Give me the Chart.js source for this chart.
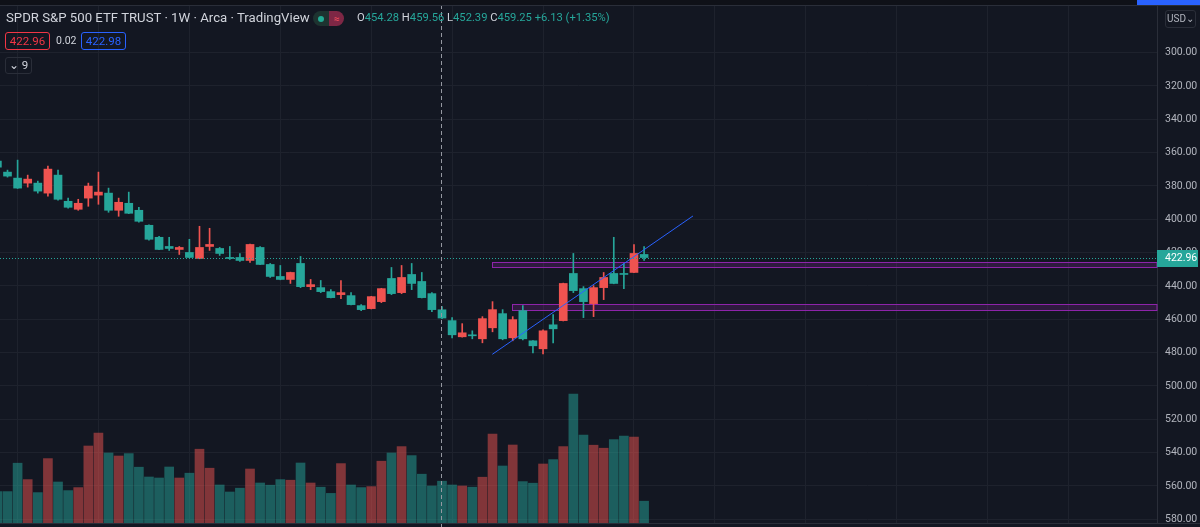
<!DOCTYPE html>
<html>
<head>
<meta charset="utf-8">
<script src="https://cdn.jsdelivr.net/npm/chart.js@4.4.1/dist/chart.umd.min.js"></script>
<style>
body{margin:0;background:#131722;overflow:hidden;font-family:Roboto,"Noto Sans",sans-serif}
#wrap{position:relative;width:1200px;height:527px}
#c{position:absolute;left:0;top:0}
.abs{position:absolute;white-space:nowrap}
#title{left:6px;top:10px;font-size:13.2px;color:#d1d4dc}
#pill{left:313px;top:11px;width:31px;height:15px;border-radius:8px;overflow:hidden;display:flex}
#pill .l{width:16px;background:#1d3330;position:relative}
#pill .l i{position:absolute;left:5px;top:4.5px;width:6px;height:6px;border-radius:3px;background:#22ab94}
#pill .r{flex:1;background:#7e2745;color:#f7525f;font-size:10px;line-height:15px;text-align:center}
#ohlc{left:357px;top:11px;font-size:11.2px;color:#d1d4dc}
#ohlc b{font-weight:normal;color:#26a69a}
.box{top:32px;height:18px;line-height:16px;font-size:11.5px;border-radius:3px;text-align:center;box-sizing:border-box}
#bid{left:5px;width:45px;border:1px solid #f23645;color:#f23645}
#spr{left:56px;top:33px;line-height:16px;font-size:10.5px;color:#d1d4dc}
#ask{left:81px;width:45px;border:1px solid #2962ff;color:#2962ff}
#ind{left:5px;top:57px;width:27px;height:17px;border:1px solid #2a2e39;border-radius:3px;box-sizing:border-box;font-size:11.5px;line-height:15px;color:#d1d4dc;text-align:center}
#topbar{left:0;top:0;width:1200px;height:5px;background:#0f1118;border-bottom:1px solid #2a2e39}
#blue{left:1137px;top:0;width:63px;height:5px;background:#2962ff}
#usd{left:1165px;top:10px;width:31px;height:18px;border:1px solid #2a2e39;border-radius:3px;box-sizing:border-box;font-size:10px;line-height:16px;color:#b2b5be;text-align:center}
</style>
</head>
<body>
<div id="wrap">
<canvas id="c" width="1200" height="527"></canvas>
<div class="abs" id="topbar"></div>
<div class="abs" id="blue"></div>
<div class="abs" id="title">SPDR S&amp;P 500 ETF TRUST · 1W · Arca · TradingView</div>
<div class="abs" id="pill"><div class="l"><i></i></div><div class="r">≈</div></div>
<div class="abs" id="ohlc">O<b>454.28</b> H<b>459.56</b> L<b>452.39</b> C<b>459.25</b> <b>+6.13 (+1.35%)</b></div>
<div class="abs box" id="bid">422.96</div>
<div class="abs" id="spr">0.02</div>
<div class="abs box" id="ask">422.98</div>
<div class="abs" id="ind">⌄ 9</div>
<div class="abs" id="usd">USD⌄</div>
</div>
<script>
// weekly bars, index 0 = first full candle at left edge
const weeks = [-1,0,1,2,3,4,5,6,7,8,9,10,11,12,13,14,15,16,17,18,19,20,21,22,23,24,25,26,27,28,29,30,31,32,33,34,35,36,37,38,39,40,41,42,43,44,45,46,47,48,49,50,51,52,53,54,55,56,57,58,59,60,61,62,63];
const opens = [365.1,371.7,375.3,378.3,378.3,384.3,373.5,389.2,394.0,387.3,385.5,384.3,394.6,390.4,394.6,403.6,410.8,416.3,418.1,419.9,423.5,416.3,417.5,422.9,422.9,424.7,416.9,427.1,434.3,436.1,426.5,440.4,441.0,443.4,445.2,445.8,451.8,453.6,449.4,435.5,444.0,433.1,437.3,444.6,454.28,460.8,470.5,469.3,471.7,465.1,456.6,471.1,454.8,472.9,477.7,463.3,460.8,432.5,441.6,450.6,441.0,432.5,432.5,431.9,421.1];
const highs = [369.3,374.7,381.5,380.7,384.3,386.1,388.6,393.4,394.6,392.2,391.0,395.8,398.2,396.6,401.8,412.6,418.3,418.7,421.1,423.1,423.7,418.7,421.7,424.1,425.3,425.9,427.3,434.9,436.3,438.5,441.0,442.2,444.0,447.2,447.6,451.4,454.8,453.8,450.0,445.2,444.6,442.2,447.2,455.4,459.56,471.1,470.7,471.7,474.1,467.5,472.3,472.9,472.3,480.1,480.7,474.1,461.0,444.0,459.0,458.4,448.2,438.7,441.6,432.1,424.7];
const lows = [363.9,370.5,364.5,373.5,377.1,368.1,370.5,387.3,388.0,378.3,371.7,381.3,387.3,383.7,392.8,403.4,410.2,410.8,416.3,412.0,404.2,405.4,416.9,416.3,420.5,414.9,416.3,426.5,427.7,431.7,422.3,436.1,436.7,442.2,436.7,444.0,451.2,446.2,441.4,428.9,427.7,426.5,431.9,444.0,452.39,459.0,462.6,466.9,458.4,449.4,454.2,458.4,451.8,472.7,466.3,457.2,438.3,420.5,440.4,439.8,431.9,410.8,426.5,415.1,416.3];
const closes = [368.7,374.1,381.3,375.9,383.1,369.9,388.0,392.8,390.4,380.1,383.7,394.6,389.8,396.4,401.2,412.0,418.1,417.5,416.9,422.9,416.9,415.1,420.5,423.5,424.7,415.1,427.1,434.3,436.1,431.9,440.4,439.2,443.4,447.0,444.0,451.2,454.2,446.4,441.6,444.6,434.9,438.5,447.0,454.2,459.25,469.3,468.1,469.9,459.6,454.2,471.7,460.2,471.7,475.9,466.9,465.7,438.5,442.8,449.4,441.0,434.9,438.5,433.1,420.5,422.96];
const volumes = [157,157,299,217,152,322,205,162,177,385,449,350,335,347,279,230,225,280,225,249,369,274,190,155,174,270,200,189,217,214,300,200,179,148,297,190,177,182,309,350,382,337,244,185,209,190,185,179,229,445,285,390,207,199,295,317,382,645,440,389,374,417,435,429,109];

const priceTicks = [300,320,340,360,380,400,420,440,460,480,500,520,540,560,580];
const timeGrid = [1,9,18,27,36,44,53,62,70,79,88,97,105];
const lastPrice = 422.96;
const crossWeek = 43;
// drawings: [fromWeek, lowPrice, highPrice]
const zones = [[47.95,425.6,428.6],[49.93,451.0,454.2]];
const trendX = [47.98,67.84];
const trendY = [481.0,398.0];

const UP='#26a69a', DN='#ef5350';
const upVol='rgba(38,166,154,0.5)', dnVol='rgba(239,83,80,0.5)';
const col = weeks.map((w,i)=>closes[i]>=opens[i]?UP:DN);
const vcol = weeks.map((w,i)=>closes[i]>=opens[i]?upVol:dnVol);

function noPad(s){ s.paddingTop=0; s.paddingBottom=0; s.paddingLeft=0; s.paddingRight=0; }

const overlay = {
  id:'overlay',
  beforeDatasetsDraw(c){
    const {ctx,chartArea:a,scales:{x,y}}=c;
    ctx.save();
    zones.forEach(z=>{
      const x0=Math.round(x.getPixelForValue(z[0]))+0.5;
      const y0=Math.round(y.getPixelForValue(z[1]))+0.5, y1=Math.round(y.getPixelForValue(z[2]))+0.5;
      ctx.fillStyle='rgba(156,39,176,0.2)';
      ctx.fillRect(x0,y0,a.right-x0,y1-y0);
      ctx.strokeStyle='#8e24aa'; ctx.lineWidth=1;
      ctx.strokeRect(x0,y0,a.right-x0,y1-y0);
    });
    ctx.restore();
  },
  afterDatasetsDraw(c){
    const {ctx,chartArea:a,scales:{x,y}}=c;
    ctx.save();
    const py=Math.round(y.getPixelForValue(lastPrice))+0.5;
    ctx.strokeStyle=UP; ctx.lineWidth=1; ctx.setLineDash([1,2]);
    ctx.beginPath(); ctx.moveTo(a.left,py); ctx.lineTo(a.right,py); ctx.stroke();
    const cx=Math.round(x.getPixelForValue(crossWeek))-0.5;
    ctx.strokeStyle='#9598a1'; ctx.setLineDash([4,3]);
    ctx.beginPath(); ctx.moveTo(cx,a.top); ctx.lineTo(cx,c.height); ctx.stroke();
    ctx.setLineDash([]);
    ctx.strokeStyle='#2a2e39';
    ctx.beginPath(); ctx.moveTo(0,a.bottom+0.5); ctx.lineTo(c.width,a.bottom+0.5); ctx.stroke();
    ctx.restore();
  },
  afterDraw(c){
    const {ctx,chartArea:a,scales:{y}}=c;
    const py=y.getPixelForValue(lastPrice);
    ctx.save();
    ctx.fillStyle=UP;
    ctx.fillRect(a.right,Math.round(py)-8,41,17);
    ctx.fillStyle='#ffffff'; ctx.font='10.5px Roboto'; ctx.textBaseline='middle'; ctx.textAlign='left';
    ctx.fillText(lastPrice.toFixed(2),a.right+8,Math.round(py)+0.5);
    ctx.restore();
  }
};

Chart.defaults.font.family='Roboto';
new Chart(document.getElementById('c'),{
  type:'bar',
  data:{datasets:[
    {type:'line',data:trendX.map((v,i)=>({x:v,y:trendY[i]})),borderColor:'#2962ff',borderWidth:1,pointRadius:0,order:-1},
    {data:weeks.map((w,i)=>({x:w,y:[opens[i],closes[i]]})),backgroundColor:col,barThickness:8,minBarLength:1,grouped:false,order:0},
    {data:weeks.map((w,i)=>({x:w,y:[lows[i],highs[i]]})),backgroundColor:col,barThickness:1,grouped:false,order:1},
    {data:weeks.map((w,i)=>({x:w,y:volumes[i]})),yAxisID:'v',backgroundColor:vcol,barThickness:9,grouped:false,order:2}
  ]},
  options:{
    animation:false,responsive:false,
    layout:{padding:{top:5,bottom:4,left:0,right:0}},
    plugins:{legend:{display:false},tooltip:{enabled:false}},
    scales:{
      x:{type:'linear',min:-0.742,max:113.76,offset:false,
        afterBuildTicks(s){s.ticks=timeGrid.map(v=>({value:v}));},
        afterFit(s){s.height=0; noPad(s);},
        grid:{color:'#1e222d',offset:false,drawTicks:false},border:{display:false},ticks:{display:false,padding:0}},
      y:{position:'right',reverse:true,min:271.45,max:582.2,
        afterBuildTicks(s){s.ticks=priceTicks.map(v=>({value:v}));},
        afterFit(s){s.width=43; noPad(s);},
        grid:{color:'#1e222d',drawTicks:false},border:{display:true,color:'#2a2e39'},
        ticks:{padding:8,color:'#b2b5be',font:{size:10.5},callback:v=>v.toFixed(2)}},
      v:{display:false,min:0,max:2590}
    }
  },
  plugins:[overlay]
});
</script>
</body>
</html>
